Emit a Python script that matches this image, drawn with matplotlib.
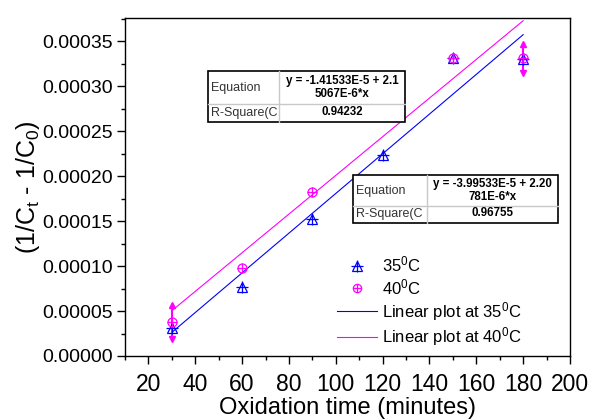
import matplotlib
matplotlib.use("Agg")
import matplotlib.pyplot as plt
import numpy as np
from matplotlib.lines import Line2D
from matplotlib.patches import Rectangle

plt.rcParams['font.family'] = ['Liberation Sans', 'DejaVu Sans']
plt.rcParams['mathtext.fontset'] = 'custom'
plt.rcParams['mathtext.rm'] = 'Liberation Sans'
plt.rcParams['mathtext.it'] = 'Liberation Sans'

# data
x35 = [30, 60, 90, 120, 150, 180]
y35 = [3.1e-5, 7.7e-5, 1.52e-4, 2.24e-4, 3.31e-4, 3.30e-4]
x40 = [30, 60, 90, 150, 180]
y40 = [3.8e-5, 9.8e-5, 1.82e-4, 3.31e-4, 3.31e-4]
yerr40 = [1.9e-5, 0, 0, 0, 1.6e-5]
fit35 = (-3.99533e-5, 2.20781e-6)
fit40 = (-1.41533e-5, 2.15067e-6)
fit_range = [30, 180]
eq35 = "y = -3.99533E-5 + 2.20\n781E-6*x"
r2_35 = "0.96755"
eq40 = "y = -1.41533E-5 + 2.1\n5067E-6*x"
r2_40 = "0.94232"
yticks = [0.0, 0.00005, 0.0001, 0.00015, 0.0002, 0.00025, 0.0003, 0.00035]
xticks = [20, 40, 60, 80, 100, 120, 140, 160, 180, 200]

blue = '#0000ff'
mag = '#ff00ff'

fig = plt.figure(figsize=(5.94, 4.2), dpi=100)
ax = fig.add_axes([125/594, 1-356/420, 445/594, 338/420])

# fit lines
xf = np.array(fit_range)
ax.plot(xf, fit35[0] + fit35[1]*xf, color=blue, lw=0.8, zorder=2)
ax.plot(xf, fit40[0] + fit40[1]*xf, color=mag, lw=0.8, zorder=2)

# error bars with arrow heads for 40C
for xi, yi, ei in zip(x40, y40, yerr40):
    if ei > 0:
        ax.plot([xi, xi], [yi-ei, yi+ei], color=mag, lw=1.5, zorder=3)
        ax.plot([xi], [yi+ei], marker='^', color=mag, ms=4.5, zorder=3)
        ax.plot([xi], [yi-ei], marker='v', color=mag, ms=4.5, zorder=3)

# markers 35C: triangle with plus
ax.plot(x35, y35, ls='none', marker='^', ms=7, mfc='none', mec=blue, mew=0.9, zorder=4)
ax.plot(x35, y35, ls='none', marker='+', ms=8, mec=blue, mew=0.9, zorder=4)
# markers 40C: circle with plus
ax.plot(x40, y40, ls='none', marker='o', ms=6.5, mfc='none', mec=mag, mew=0.9, zorder=5)
ax.plot(x40, y40, ls='none', marker='+', ms=6.5, mec=mag, mew=0.9, zorder=5)

ax.set_xlim(10, 200)
ax.set_ylim(0, 0.000376)
ax.set_xticks(xticks)
ax.set_xticks(np.arange(10, 201, 10), minor=True)
ax.set_yticks(yticks)
ax.set_yticks(np.arange(0, 0.000376, 0.000025), minor=True)
ax.set_yticklabels(["%.5f" % v for v in yticks])
ax.tick_params(axis='both', which='major', direction='out', length=6, width=1)
ax.tick_params(axis='both', which='minor', direction='out', length=3, width=1)
ax.tick_params(axis='x', which='major', labelsize=16.5, pad=6)
ax.tick_params(axis='y', which='major', labelsize=14, pad=3)
for s in ax.spines.values():
    s.set_linewidth(1.0)

ax.set_xlabel("Oxidation time (minutes)", fontsize=17, labelpad=1)
ax.set_ylabel(r"(1/C$_\mathregular{t}$ - 1/C$_\mathregular{0}$)", fontsize=18, labelpad=0)

# legend
h1 = (Line2D([], [], ls='none', marker='^', ms=7, mfc='none', mec=blue, mew=0.9),
      Line2D([], [], ls='none', marker='+', ms=8, mec=blue, mew=0.9))
h2 = (Line2D([], [], ls='none', marker='o', ms=6, mfc='none', mec=mag, mew=0.9),
      Line2D([], [], ls='none', marker='+', ms=6, mec=mag, mew=0.9))
h3 = Line2D([], [], color=blue, lw=0.8)
h4 = Line2D([], [], color=mag, lw=0.8)
ax.legend([h1, h2, h3, h4],
          [r"35$^\mathregular{0}$C", r"40$^\mathregular{0}$C",
           r"Linear plot at 35$^\mathregular{0}$C", r"Linear plot at 40$^\mathregular{0}$C"],
          loc='upper left', bbox_to_anchor=((337-125)/445, (356-255)/338),
          frameon=False, fontsize=12, handlelength=2.4, handletextpad=0.3,
          labelspacing=0.15, borderpad=0, borderaxespad=0)

# tables
def draw_table(x0, y0, w, h, c1, r1, eq, r2):
    def px(x, y):
        return ((x-125)/445, (356-y)/338)
    trans = ax.transAxes
    xs = x0 + c1*w
    ys = y0 + r1*h
    ax.add_line(Line2D([px(xs, y0)[0], px(xs, y0+h)[0]], [px(xs, y0)[1], px(xs, y0+h)[1]],
                       transform=trans, color='#c8c8c8', lw=1.0, zorder=6))
    ax.add_line(Line2D([px(x0, ys)[0], px(x0+w, ys)[0]], [px(x0, ys)[1], px(x0+w, ys)[1]],
                       transform=trans, color='#c8c8c8', lw=1.0, zorder=6))
    bl = px(x0, y0+h)
    tr = px(x0+w, y0)
    ax.add_patch(Rectangle(bl, tr[0]-bl[0], tr[1]-bl[1], transform=trans,
                           facecolor='white', edgecolor='black', lw=1.2, zorder=5))
    ax.text(*px(x0+3, (y0+ys)/2), "Equation", transform=trans, ha='left', va='center',
            fontsize=9, color='#333333', zorder=7)
    ax.text(*px(x0+3, (ys+y0+h)/2), "R-Square(C", transform=trans, ha='left', va='center',
            fontsize=9, color='#333333', zorder=7)
    ax.text(*px((xs+x0+w)/2, (y0+ys)/2), eq, transform=trans, ha='center', va='center',
            fontsize=8.3, fontweight='bold', linespacing=1.1, zorder=7)
    ax.text(*px((xs+x0+w)/2, (ys+y0+h)/2 - 1), r2, transform=trans, ha='center', va='center',
            fontsize=8.3, fontweight='bold', zorder=7)

draw_table(208.3, 71, 197, 51, 71/197, 33/51, eq40, r2_40)
draw_table(352.7, 175.3, 205.6, 47.7, 74/205.6, 30.7/47.7, eq35, r2_35)

fig.savefig("out.png", dpi=100)
